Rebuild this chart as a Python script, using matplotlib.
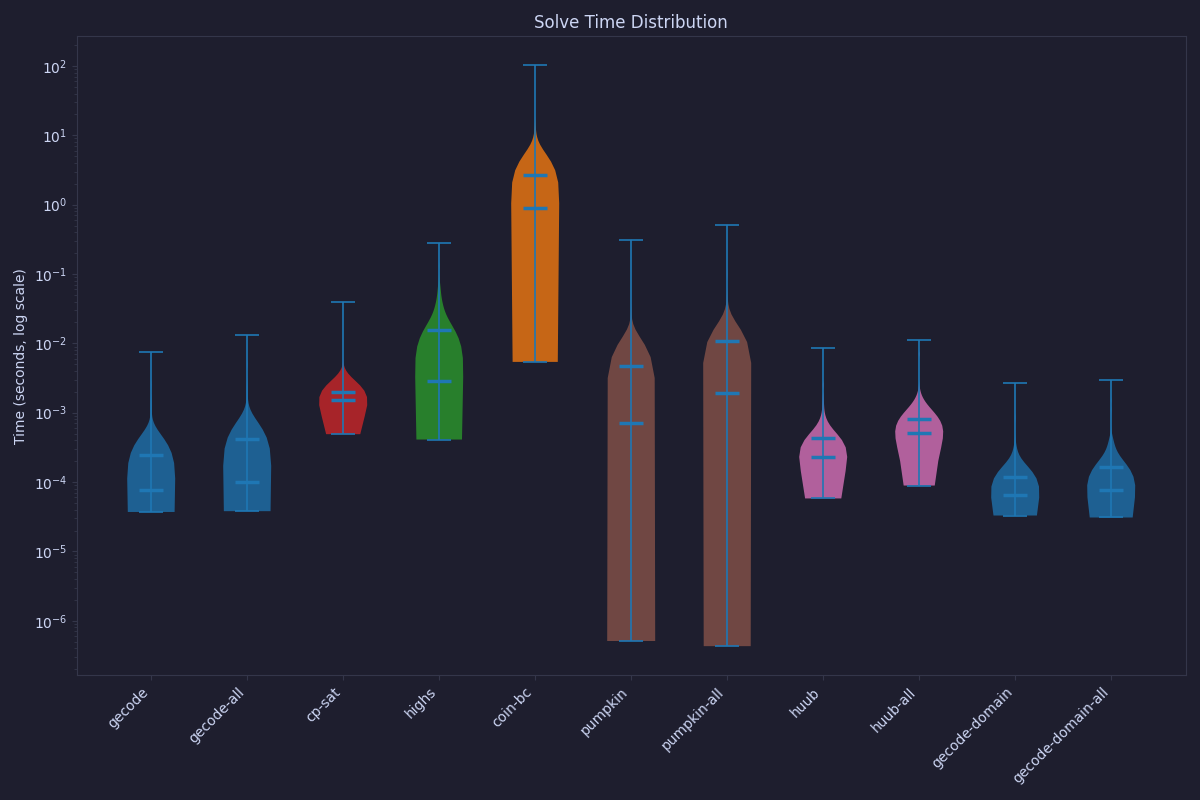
import numpy as np
import matplotlib
matplotlib.use("Agg")
import matplotlib.pyplot as plt

BG = "#1e1e2e"
FG = "#cdd6f4"
EDGE = "#34364a"
LINE = "#1f77b4"

solvers = ["gecode", "gecode-all", "cp-sat", "highs", "coin-bc", "pumpkin",
           "pumpkin-all", "huub", "huub-all", "gecode-domain", "gecode-domain-all"]
body_colors = ["#1f77b4", "#1f77b4", "#d62728", "#2ca02c", "#ff7f0e", "#8c564b",
               "#8c564b", "#e377c2", "#e377c2", "#1f77b4", "#1f77b4"]

# solve times (seconds) and how many instances took that long
gecode_t = [3.7e-5, 4.5e-5, 5.5e-5, 6.5e-5, 7.8e-5, 1.0e-4, 1.6e-4, 2.5e-4, 4.0e-4,
            1.0e-3, 1.2e-3, 1.5e-3, 2.5e-3, 7.5e-3]
gecode_n = [5, 12, 15, 10, 8, 20, 12, 7, 4, 1, 1, 1, 1, 1]

gecode_all_t = [3.8e-5, 5e-5, 6.5e-5, 8e-5, 1e-4, 1.3e-4, 2e-4, 3e-4, 5e-4, 8e-4,
                1.5e-3, 2e-3, 2.5e-3, 5e-3, 1.32e-2]
gecode_all_n = [6, 12, 12, 10, 10, 12, 10, 8, 6, 4, 1, 1, 1, 1, 1]

cpsat_t = [4.9e-4, 7e-4, 9e-4, 1.1e-3, 1.3e-3, 1.5e-3, 1.7e-3, 1.9e-3, 2.2e-3, 2.6e-3,
           3.0e-3, 3.6e-3, 3.97e-2]
cpsat_n = [3, 6, 9, 11, 12, 12, 10, 8, 7, 5, 3, 2, 1]

highs_t = [4.1e-4, 6e-4, 9e-4, 1.3e-3, 1.8e-3, 2.4e-3, 2.9e-3, 4.5e-3, 6.5e-3, 9e-3,
           1.2e-2, 1.6e-2, 2.0e-2, 2.6e-2, 3.3e-2, 4.2e-2, 5.5e-2, 7.0e-2, 9.0e-2, 0.13, 0.284]
highs_n = [4, 8, 8, 8, 8, 7, 8, 6, 6, 5, 5, 5, 4, 4, 4, 3, 3, 2, 1, 1, 1]

coinbc_t = [5.4e-3, 0.02, 0.06, 0.15, 0.3, 0.5, 0.7, 0.85, 0.95, 1.1, 1.3, 1.6, 2.0,
            2.5, 3.1, 3.6, 4.3, 5.5, 7.5, 10, 12, 103]
coinbc_n = [3, 4, 5, 7, 7, 7, 8, 4, 4, 5, 5, 5, 5, 5, 4, 3, 3, 2, 1, 1, 1, 1]

pumpkin_t = [5.1e-7, 5e-6, 3e-5, 1e-4, 2e-4, 3.5e-4, 5e-4, 7e-4, 7.5e-4, 9e-4, 1.1e-3,
             1.4e-3, 1.8e-3, 2.3e-3, 3e-3, 4e-3, 5.5e-3, 8e-3, 1.2e-2, 2.5e-2, 0.313]
pumpkin_n = [2, 4, 6, 8, 8, 8, 8, 6, 6, 6, 6, 6, 5, 5, 4, 3, 3, 2, 1, 1, 1]

pumpkin_all_t = [4.3e-7, 5e-6, 5e-5, 2e-4, 5e-4, 9e-4, 1.3e-3, 1.7e-3, 1.9e-3, 2.0e-3,
                 2.6e-3, 3.3e-3, 4.2e-3, 5.3e-3, 6.7e-3, 8.5e-3, 1.1e-2, 1.4e-2, 1.8e-2,
                 2.4e-2, 3.2e-2, 4.5e-2, 0.1, 0.516]
pumpkin_all_n = [2, 3, 5, 6, 7, 8, 9, 7, 3, 5, 5, 5, 5, 5, 5, 4, 4, 3, 3, 2, 1, 1, 1, 1]

huub_t = [5.8e-5, 9e-5, 1.2e-4, 1.5e-4, 1.8e-4, 2.1e-4, 2.3e-4, 2.4e-4, 2.8e-4, 3.3e-4,
          3.8e-4, 4.5e-4, 5.3e-4, 6.2e-4, 7.5e-4, 9.5e-4, 1.3e-3, 1.7e-3, 2.5e-3, 8.57e-3]
huub_n = [3, 5, 7, 9, 10, 9, 7, 6, 7, 7, 6, 5, 4, 3, 3, 2, 2, 1, 1, 1]

huub_all_t = [8.9e-5, 1.5e-4, 2.2e-4, 2.8e-4, 3.4e-4, 4.0e-4, 4.5e-4, 5.0e-4, 5.2e-4,
              5.8e-4, 6.6e-4, 7.5e-4, 8.5e-4, 9.7e-4, 1.1e-3, 1.25e-3, 1.45e-3, 1.75e-3,
              2.2e-3, 7.0e-3, 1.12e-2]
huub_all_n = [2, 3, 5, 6, 8, 9, 9, 8, 5, 6, 6, 6, 5, 5, 5, 4, 3, 2, 1, 1, 1]

gdom_t = [3.29e-5, 4.2e-5, 5e-5, 5.8e-5, 6.5e-5, 6.8e-5, 7.5e-5, 8.5e-5, 1.0e-4, 1.2e-4,
          1.45e-4, 1.8e-4, 2.3e-4, 3.0e-4, 3.5e-4, 8.5e-4, 2.67e-3]
gdom_n = [4, 8, 12, 14, 12, 8, 8, 7, 6, 5, 4, 3, 3, 2, 1, 1, 1]

gdom_all_t = [3.08e-5, 4e-5, 5e-5, 6e-5, 7e-5, 7.5e-5, 7.6e-5, 8.5e-5, 9.5e-5, 1.1e-4,
              1.3e-4, 1.6e-4, 2.0e-4, 2.5e-4, 3.0e-4, 3.6e-4, 4.4e-4, 1.1e-3, 1.5e-3, 2.95e-3]
gdom_all_n = [4, 7, 10, 11, 11, 7, 7, 6, 5, 5, 4, 4, 4, 4, 3, 3, 2, 1, 1, 1]

# kde bandwidth (seconds) per solver
bandwidths = [2.7e-4, 4.2e-4, 1.0e-3, 1.0e-2, 3.0, 7.5e-3, 1.05e-2, 2.0e-4, 3.8e-4, 7.5e-5, 9e-5]

times = [gecode_t, gecode_all_t, cpsat_t, highs_t, coinbc_t, pumpkin_t, pumpkin_all_t,
         huub_t, huub_all_t, gdom_t, gdom_all_t]
counts = [gecode_n, gecode_all_n, cpsat_n, highs_n, coinbc_n, pumpkin_n, pumpkin_all_n,
          huub_n, huub_all_n, gdom_n, gdom_all_n]

fig, ax = plt.subplots(figsize=(12, 8), dpi=100)
fig.patch.set_facecolor(BG)
ax.set_facecolor(BG)
ax.set_yscale("log")

for i in range(len(solvers)):
    data = np.repeat(times[i], counts[i])
    bw = bandwidths[i]
    parts = ax.violinplot([data], positions=[i + 1], showmeans=True, showmedians=True,
                          bw_method=lambda k, s=bw: s / k.dataset.std(ddof=1))
    for body in parts["bodies"]:
        body.set_facecolor(body_colors[i])
        body.set_edgecolor("none")
        body.set_alpha(0.75)
    for key in ("cbars", "cmins", "cmaxes"):
        parts[key].set_color(LINE)
        parts[key].set_linewidth(1.2)
    for key in ("cmeans", "cmedians"):
        parts[key].set_color(LINE)
        parts[key].set_linewidth(2.5)

ax.set_xticks(range(1, len(solvers) + 1))
ax.set_xticklabels(solvers, rotation=45, ha="right")
ax.set_ylabel("Time (seconds, log scale)", color=FG, fontsize=10)
ax.set_title("Solve Time Distribution", color=FG, fontsize=12)

ax.tick_params(axis="both", which="both", colors=EDGE, labelcolor=FG, labelsize=10)
for sp in ax.spines.values():
    sp.set_color(EDGE)

plt.subplots_adjust(left=0.064, right=0.988, top=0.955, bottom=0.156)
plt.savefig("out.png", dpi=100, facecolor=BG)
